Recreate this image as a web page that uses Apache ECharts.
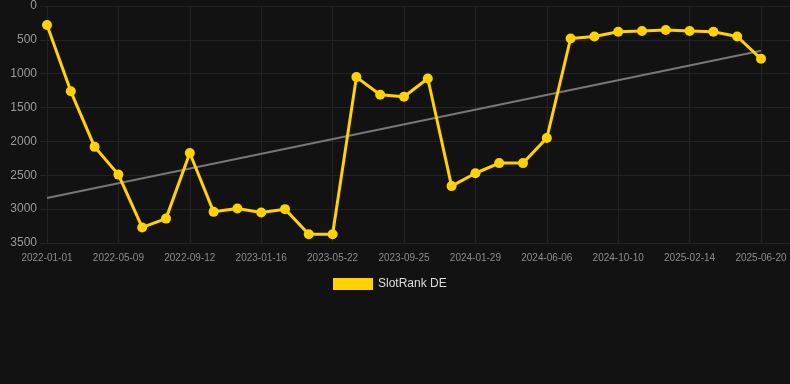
<!DOCTYPE html>
<html>
<head>
    <meta charset="utf-8">
    <title>SlotRank DE</title>
    <script type="text/javascript" src="https://cdn.jsdelivr.net/npm/echarts@6/dist/echarts.min.js"></script>
    <style>
        *{
            margin:0;
            padding:0;
        }
        body{
            background:#121212;
        }
        #main{
            width:790px;
            height:384px;
        }
    </style>
</head>
<body>
<div id="main"></div>
<script type="text/javascript">
    // dates (categories), one point every ~6 weeks
    var dates = [
        '2022-01-01', '2022-02-12', '2022-03-26', '2022-05-09', '2022-06-20', '2022-08-01',
        '2022-09-12', '2022-10-24', '2022-12-05', '2023-01-16', '2023-02-27', '2023-04-10',
        '2023-05-22', '2023-07-03', '2023-08-14', '2023-09-25', '2023-11-06', '2023-12-18',
        '2024-01-29', '2024-03-11', '2024-04-23', '2024-06-06', '2024-07-18', '2024-08-29',
        '2024-10-10', '2024-11-21', '2025-01-03', '2025-02-14', '2025-03-28', '2025-05-09',
        '2025-06-20'
    ];
    // rank values (lower = better, axis is inverted)
    var ranks = [
        280, 1260, 2080, 2490, 3270, 3140,
        2170, 3040, 2990, 3050, 3000, 3370,
        3370, 1050, 1310, 1340, 1070, 2660,
        2470, 2320, 2320, 1950, 480, 450,
        380, 370, 355, 370, 380, 450,
        780
    ];
    // trend line, start and end value
    var trend = [2835, 660];
    var yTicks = [0, 3500, 500];

    var gridColor = '#232323';
    var chart = echarts.init(document.getElementById('main'));

    var option = {
        backgroundColor: '#121212',
        animation: false,
        grid: [
            {left: 47, right: 29, top: 6, bottom: 141, containLabel: false},
            {left: 40, right: 0, top: 6, bottom: 141, containLabel: false}
        ],
        legend: {
            top: 273,
            left: 328,
            itemWidth: 40,
            itemHeight: 12,
            itemGap: 10,
            icon: 'rect',
            textStyle: {color: '#dddddd', fontSize: 12},
            data: ['SlotRank DE']
        },
        xAxis: [
            {
                type: 'category',
                gridIndex: 0,
                data: dates,
                boundaryGap: false,
                axisLine: {show: false},
                axisTick: {show: true, interval: 2, length: 5, lineStyle: {color: gridColor}},
                axisLabel: {interval: 2, color: '#8c8c8c', fontSize: 10, margin: 10},
                splitLine: {show: true, interval: 2, lineStyle: {color: gridColor}}
            },
            {
                type: 'value',
                gridIndex: 1,
                min: 0,
                max: 1,
                show: false
            }
        ],
        yAxis: [
            {
                type: 'value',
                gridIndex: 0,
                inverse: true,
                min: yTicks[0],
                max: yTicks[1],
                interval: yTicks[2],
                axisLine: {show: false},
                axisTick: {show: false},
                axisLabel: {show: false},
                splitLine: {show: false}
            },
            {
                type: 'value',
                gridIndex: 1,
                inverse: true,
                min: yTicks[0],
                max: yTicks[1],
                interval: yTicks[2],
                axisLine: {show: false},
                axisTick: {show: false},
                axisLabel: {
                    color: '#9a9a9a',
                    fontSize: 12,
                    margin: 3,
                    formatter: function (v) { return String(v); }
                },
                splitLine: {show: true, lineStyle: {color: gridColor}}
            }
        ],
        series: [
            {
                name: 'SlotRank DE',
                type: 'line',
                xAxisIndex: 0,
                yAxisIndex: 0,
                data: ranks,
                symbol: 'circle',
                symbolSize: 10,
                color: '#ffd200',
                lineStyle: {width: 3, color: '#ffd200'},
                itemStyle: {color: '#ffd200'},
                z: 3,
                markLine: {
                    silent: true,
                    symbol: 'none',
                    label: {show: false},
                    lineStyle: {color: '#777777', width: 2, type: 'solid'},
                    data: [[
                        {coord: [dates[0], trend[0]]},
                        {coord: [dates[dates.length - 1], trend[1]]}
                    ]],
                    z: 2
                }
            }
        ]
    };
    chart.setOption(option);
</script>
</body>
</html>
